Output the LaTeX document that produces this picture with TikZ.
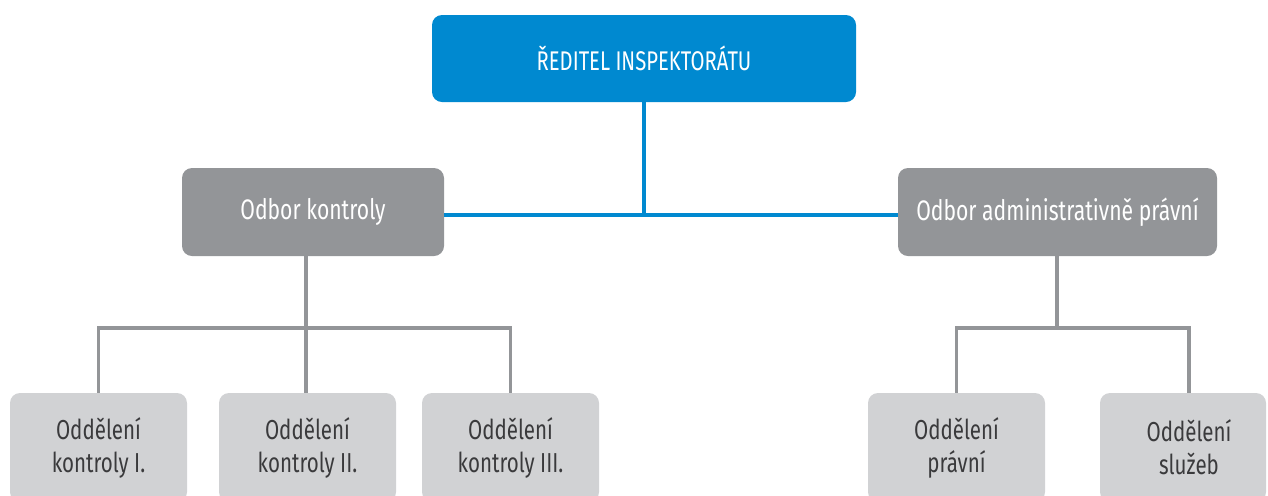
\documentclass[tikz,border=0pt]{standalone}
\usepackage{fontspec}
\setmainfont[FakeStretch=0.75]{Fira Sans}
\definecolor{topblue}{HTML}{0089D0}
\definecolor{midgray}{HTML}{939598}
\definecolor{lowgray}{HTML}{D1D2D4}
\definecolor{lowtext}{HTML}{3A3A3C}
\tikzset{
  topbox/.style={rectangle, rounded corners=5pt, fill=topblue, text=white, inner sep=0pt, font=\fontsize{13.5}{16}\selectfont},
  midbox/.style={rectangle, rounded corners=5pt, fill=midgray, text=white, inner sep=0pt, minimum height=44pt, font=\fontsize{14.1}{16}\selectfont},
  lowbox/.style={rectangle, rounded corners=5pt, fill=lowgray, text=lowtext, inner sep=0pt, minimum height=54.5pt, align=center, font=\fontsize{13.7}{16.5}\selectfont},
  blueline/.style={draw=topblue, line width=2pt},
  grayline/.style={draw=midgray, line width=1.7pt},
}
\begin{document}
\begin{tikzpicture}[x=0.5pt,y=-0.5pt]
\useasboundingbox (0,0) rectangle (1268,495);
\clip (0,0) rectangle (1268,495);
% nodes
\node[topbox, minimum width=212pt, minimum height=43.5pt] (top) at (644,58.5) {ŘEDITEL INSPEKTORÁTU};
\node[midbox, minimum width=131pt] (ok) at (313,212) {Odbor kontroly};
\node[midbox, minimum width=159.5pt] (oap) at (1057.5,212) {Odbor administrativně právní};
\node[lowbox, minimum width=88.5pt] (b1) at (98.5,447.5) {Oddělení\\kontroly I.};
\node[lowbox, minimum width=88.5pt] (b2) at (307.5,447.5) {Oddělení\\kontroly II.};
\node[lowbox, minimum width=88.5pt] (b3) at (510.5,447.5) {Oddělení\\kontroly III.};
\node[lowbox, minimum width=88.5pt] (b4) at (956.5,447.5) {Oddělení\\právní};
\node[lowbox, minimum width=83pt] (b5) at (1183,447.5) {\hspace*{6pt}Oddělení\\\hspace*{6pt}služeb};
% junctions
\coordinate (j) at (644,215);
\coordinate (k) at (306,328);
\coordinate (r) at (1057,328);
\coordinate (r5) at (1189,328);
% blue connectors
\draw[blueline] (top.south -| j) -- (j);
\draw[blueline] (ok.east |- j) -- (oap.west |- j);
% gray connectors left
\draw[grayline] (ok.south -| k) -- (k);
\draw[grayline] (b1.north) |- (k) -| (b3.north);
\draw[grayline] (k) -- (k |- b2.north);
% gray connectors right
\draw[grayline] (oap.south -| r) -- (r);
\draw[grayline] (b4.north) |- (r5) -- (r5 |- b5.north);
\end{tikzpicture}
\end{document}
